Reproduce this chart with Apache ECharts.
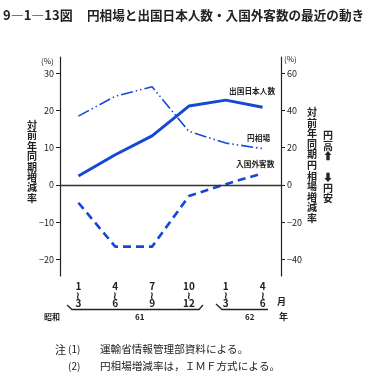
<!DOCTYPE html>
<html><head><meta charset="utf-8">
<script src="https://cdn.jsdelivr.net/npm/echarts@6/dist/echarts.min.js"></script>
<style>html,body{margin:0;padding:0;background:#fff}#c{width:368px;height:377px}</style>
</head><body><div id="c"></div>
<script>
const categories = ['1\n≀\n3','4\n≀\n6','7\n≀\n9','10\n≀\n12','1\n≀\n3','4\n≀\n6'];
const departures = [2.4, 8.1, 13.2, 21.2, 22.8, 20.9];      // 出国日本人数 (left axis, %)
const arrivals   = [-4.8, -16.6, -16.6, -3.0, 0.2, 3.1];     // 入国外客数 (left axis, %)
const yenRate    = [37, 47.7, 52.8, 28.8, 22.5, 19.5];       // 円相場 (right axis, %)
const leftTicks  = [-20, -10, 0, 10, 20, 30];
const rightTicks = [-40, -20, 0, 20, 40, 60];

const BLUE = '#1449d6';
const INK = '#222';
const FONT = '"Noto Sans CJK JP", "Noto Sans", sans-serif';
const chart = echarts.init(document.getElementById('c'), null, {renderer:'canvas'});

function txt(x, y, s, size, extra) {
  return {type:'text', left:x, top:y, style:Object.assign({text:s, fontSize:size, fill:INK, fontFamily:FONT}, extra||{})};
}
function vtxt(x, y, s, size, lh) {
  return {type:'text', left:x, top:y, style:{text:s.split('').join('\n'), fontSize:size, lineHeight:lh, fill:INK, fontFamily:FONT, align:'center', fontWeight:'bold'}};
}

chart.setOption({
  animation:false,
  backgroundColor:'#fff',
  grid:{left:60, right:87, top:57, bottom:101},
  xAxis:{
    type:'category', data:categories, boundaryGap:true,
    axisLine:{lineStyle:{color:INK, width:1.2}},
    axisTick:{inside:true, length:3, alignWithLabel:true, lineStyle:{color:INK}},
    axisLabel:{fontSize:10, lineHeight:8.5, color:INK, margin:6, fontFamily:FONT, fontWeight:'bold'}
  },
  yAxis:[
    {type:'value', position:'left', min:-24.5, max:34.4,
     axisLine:{show:true, lineStyle:{color:INK, width:1.2}},
     axisTick:{show:true, length:4, customValues:leftTicks, lineStyle:{color:INK}},
     axisLabel:{customValues:leftTicks, fontSize:9, color:INK, margin:6, fontFamily:FONT,
       formatter:v=>v<0?'−'+(-v):String(v)},
     splitLine:{show:false}},
    {type:'value', position:'right', min:-49, max:68.8,
     axisLine:{show:true, lineStyle:{color:INK, width:1.2}},
     axisTick:{show:true, length:4, customValues:rightTicks, lineStyle:{color:INK}},
     axisLabel:{customValues:rightTicks, fontSize:9, color:INK, margin:6, fontFamily:FONT,
       formatter:v=>v<0?'−'+(-v):String(v)},
     splitLine:{show:false}}
  ],
  series:[
    {name:'出国日本人数', type:'line', yAxisIndex:0, data:departures, symbol:'none',
     lineStyle:{color:BLUE, width:3},
     markLine:{silent:true, symbol:'none', label:{show:false},
       lineStyle:{color:'#333', width:1.3, type:'solid'}, data:[{yAxis:0}]}},
    {name:'円相場', type:'line', yAxisIndex:1, data:yenRate, symbol:'none',
     lineStyle:{color:BLUE, width:1.6, type:[12,3,1.5,3,1.5,3]}},
    {name:'入国外客数', type:'line', yAxisIndex:0, data:arrivals, symbol:'none',
     lineStyle:{color:BLUE, width:2.6, type:[8,5]}}
  ],
  graphic:[
    txt(3, 9, '9―1―13図', 13, {fontWeight:'bold'}),
    txt(87, 9, '円相場と出国日本人数・入国外客数の最近の動き', 12.6, {fontWeight:'bold'}),
    txt(41, 57, '(%)', 8),
    txt(284, 55, '(%)', 8),
    vtxt(27, 120, '対前年同期増減率', 10, 10.4),
    vtxt(307, 107, '対前年同期円相場増減率', 10, 10.6),
    vtxt(323, 130, '円高⬆', 10, 10.6),
    vtxt(323, 172, '⬇円安', 10, 10.6),
    txt(229, 87, '出国日本人数', 7.7, {fontWeight:'bold'}),
    txt(247, 134.5, '円相場', 7.7, {fontWeight:'bold'}),
    txt(236, 160.5, '入国外客数', 7.7, {fontWeight:'bold'}),
    txt(277, 297, '月', 9, {fontWeight:'bold'}),
    txt(44, 313, '昭和', 8, {fontWeight:'bold'}),
    txt(135, 313, '61', 8, {fontWeight:'bold'}),
    txt(245, 313, '62', 8, {fontWeight:'bold'}),
    txt(279, 312, '年', 9, {fontWeight:'bold'}),
    {type:'polyline', shape:{points:[[67,305],[72,309.5],[199,309.5],[203,305]]}, style:{stroke:INK, lineWidth:1.3, fill:null}},
    {type:'polyline', shape:{points:[[216,304],[222,309.5],[268,309.5]]}, style:{stroke:INK, lineWidth:1.3, fill:null}},
    txt(55, 344, '注', 11),
    txt(68, 344, '(1)', 10),
    txt(100, 344, '運輸省情報管理部資料による。', 10.6),
    txt(68, 361, '(2)', 10),
    txt(100, 361, '円相場増減率は，ＩＭＦ方式による。', 10.6)
  ]
});
</script></body></html>
